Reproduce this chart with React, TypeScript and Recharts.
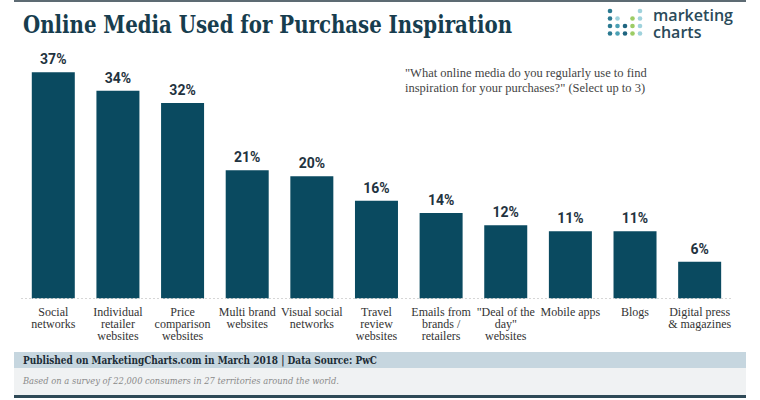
import { BarChart, Bar, XAxis, YAxis, LabelList } from 'recharts';

const categories = [
  'Social\nnetworks',
  'Individual\nretailer\nwebsites',
  'Price\ncomparison\nwebsites',
  'Multi brand\nwebsites',
  'Visual social\nnetworks',
  'Travel\nreview\nwebsites',
  'Emails from\nbrands /\nretailers',
  '"Deal of the\nday"\nwebsites',
  'Mobile apps',
  'Blogs',
  'Digital press\n& magazines',
];
const shares = [37, 34, 32, 21, 20, 16, 14, 12, 11, 11, 6];

const TITLE = 'Online Media Used for Purchase Inspiration';
const QUESTION = [
  '"What online media do you regularly use to find',
  'inspiration for your purchases?" (Select up to 3)',
];
const PUBLISHED = 'Published on MarketingCharts.com in March 2018 | Data Source: PwC';
const NOTE = 'Based on a survey of 22,000 consumers in 27 territories around the world.';

const BAR_COLOR = '#0a4a60';
const INK = '#173d4e';

// logo dots: [col, row, color]
const LOGO_DOTS: [number, number, string][] = [
  [0, 0, '#2b7a91'], [4, 0, '#9fd2dc'],
  [0, 1, '#2b7a91'], [1, 1, '#9fd2dc'], [3, 1, '#9ccc65'], [4, 1, '#9fd2dc'],
  [0, 2, '#2b7a91'], [1, 2, '#4aa0b4'], [2, 2, '#1f6580'], [3, 2, '#9ccc65'], [4, 2, '#9fd2dc'],
  [0, 3, '#2b7a91'], [1, 3, '#4aa0b4'], [2, 3, '#1f6580'], [3, 3, '#9ccc65'], [4, 3, '#9fd2dc'],
];

const data = categories.map((name, i) => ({ name, value: shares[i] }));

const CategoryTick = ({ x, y, payload }: any) => {
  const lines = String(payload.value).split('\n');
  return (
    <text x={x} y={y} textAnchor="middle" fontFamily="Liberation Serif" fontSize={12} fill="#333">
      {lines.map((l, i) => (
        <tspan key={i} x={x} dy={i === 0 ? 17 : 12}>{l}</tspan>
      ))}
    </text>
  );
};

export default function App() {
  return (
    <div style={{ position: 'absolute', left: 0, top: 0, width: 760, height: 400, background: '#fff', overflow: 'hidden' }}>
      <svg width={760} height={400} style={{ position: 'absolute', left: 0, top: 0 }}>
        <rect x={14} y={0} width={732} height={2} fill="#5d6b73" />
        <text x={23} y={33} fontFamily="DejaVu Serif" fontWeight="bold" fontSize={24} fill={INK}
          textLength={489} lengthAdjust="spacingAndGlyphs">{TITLE}</text>

        {LOGO_DOTS.map(([c, r, col], i) => (
          <circle key={i} cx={610 + c * 7.5} cy={11 + r * 7.5} r={2.3} fill={col} />
        ))}
        <text x={653} y={21} fontFamily="Open Sans" fontWeight={600} fontSize={16} fill="#2a4a5a"
          textLength={80} lengthAdjust="spacingAndGlyphs">marketing</text>
        <text x={653} y={38} fontFamily="Open Sans" fontWeight={600} fontSize={16} fill="#2a4a5a">charts</text>

        {QUESTION.map((q, i) => (
          <text key={i} x={405} y={77 + i * 15} fontFamily="Liberation Serif" fontSize={12.5} fill="#444">{q}</text>
        ))}

        <rect x={14} y={352} width={732} height={16} fill="#c6d6df" />
        <text x={23} y={364} fontFamily="DejaVu Serif" fontWeight="bold" fontSize={11} fill="#1c2c36"
          textLength={354} lengthAdjust="spacingAndGlyphs">{PUBLISHED}</text>
        <rect x={14} y={368} width={732} height={27} fill="#f0f2f3" />
        <text x={23} y={384} fontFamily="DejaVu Serif" fontStyle="italic" fontSize={10} fill="#8a8a8a"
          textLength={316} lengthAdjust="spacingAndGlyphs">{NOTE}</text>
        <rect x={14} y={395} width={732} height={3} fill="#2f4a57" />
      </svg>

      <div style={{ position: 'absolute', left: 0, top: 0 }}>
        <BarChart width={760} height={400} data={data} barCategoryGap="16.7%"
          margin={{ top: 54, right: 28, left: 21, bottom: 31.5 }}>
          <XAxis dataKey="name" interval={0} height={70} tickSize={0} tickMargin={0} tickLine={false}
            axisLine={{ stroke: '#d6d6d6', strokeDasharray: '2 2' }} tick={<CategoryTick />} />
          <YAxis hide domain={[0, 40]} />
          <Bar dataKey="value" fill={BAR_COLOR} isAnimationActive={false}>
            <LabelList dataKey="value" position="top" offset={8} formatter={(v: any) => `${v}%`}
              style={{ fontFamily: 'Roboto', fontWeight: 700, fontSize: 14, fill: '#1f3340' }} />
          </Bar>
        </BarChart>
      </div>
    </div>
  );
}
